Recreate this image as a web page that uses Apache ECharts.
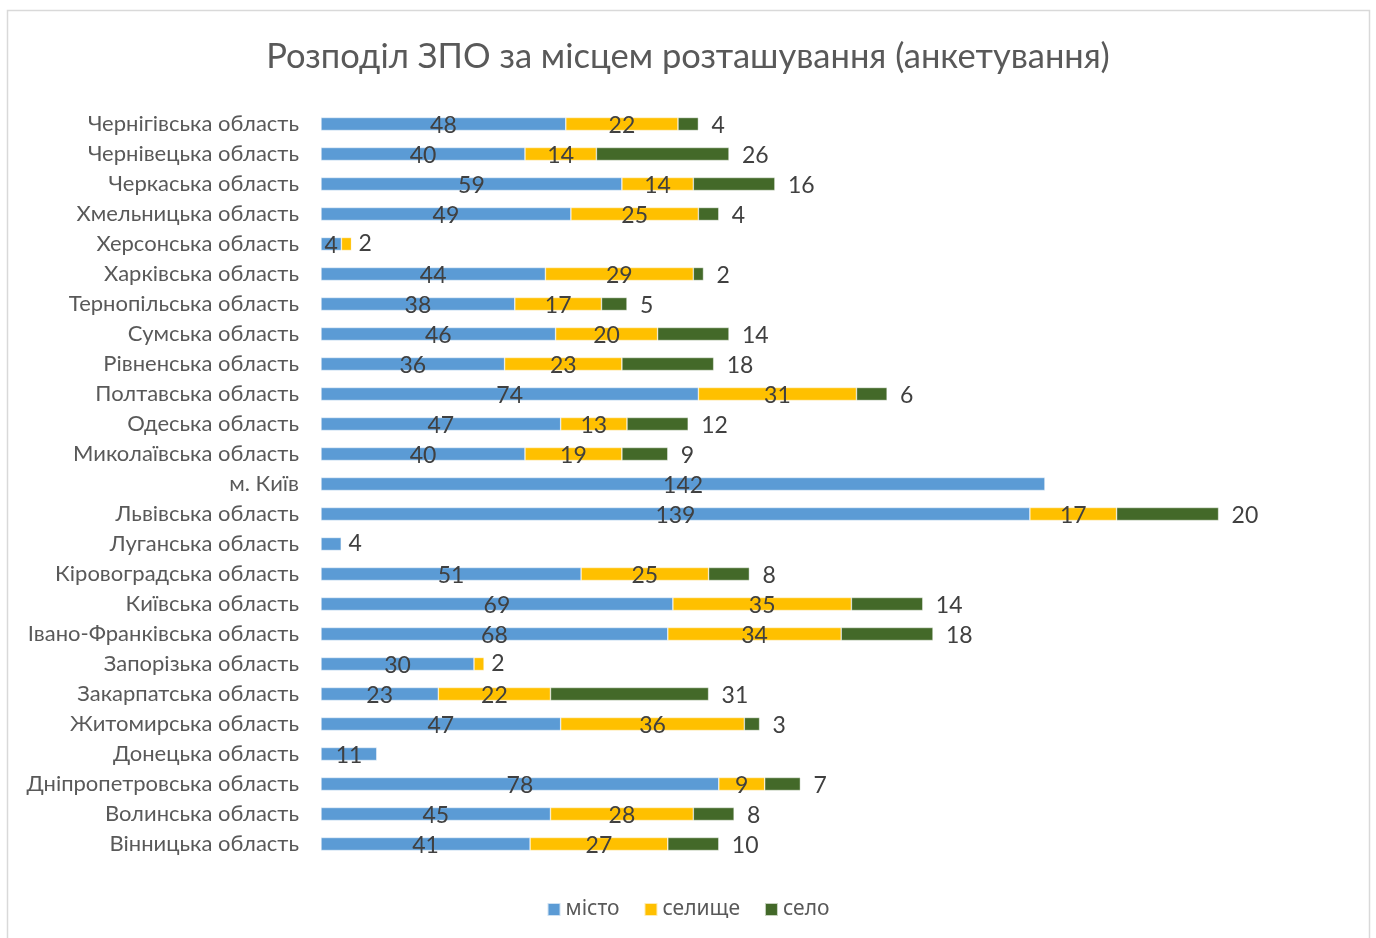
<!DOCTYPE html>
<html>
<head>
<meta charset="utf-8">
<script src="https://cdn.jsdelivr.net/npm/echarts@6/dist/echarts.min.js"></script>
<style>
  html, body { margin: 0; padding: 0; background: #fff; }
  #chart { width: 1376px; height: 938px; }
</style>
</head>
<body>
<div id="chart"></div>
<script>
// regions, bottom to top as on the picture
var regions = [
  'Вінницька область', 'Волинська область', 'Дніпропетровська область', 'Донецька область',
  'Житомирська область', 'Закарпатська область', 'Запорізька область', 'Івано-Франківська область',
  'Київська область', 'Кіровоградська область', 'Луганська область', 'Львівська область',
  'м. Київ', 'Миколаївська область', 'Одеська область', 'Полтавська область',
  'Рівненська область', 'Сумська область', 'Тернопільська область', 'Харківська область',
  'Херсонська область', 'Хмельницька область', 'Черкаська область', 'Чернівецька область',
  'Чернігівська область'
];
var misto   = [41, 45, 78, 11, 47, 23, 30, 68, 69, 51, 4, 139, 142, 40, 47, 74, 36, 46, 38, 44, 4, 49, 59, 40, 48];
var selyshche = [27, 28, 9, 0, 36, 22, 2, 34, 35, 25, 0, 17, 0, 19, 13, 31, 23, 20, 17, 29, 2, 25, 14, 14, 22];
var selo    = [10, 8, 7, 0, 3, 31, 0, 18, 14, 8, 0, 20, 0, 9, 12, 6, 18, 14, 5, 2, 0, 4, 16, 26, 4];

var seriesNames = ['місто', 'селище', 'село'];
var colors = ['#5B9BD5', '#FFC000', '#436929'];
var allValues = [misto, selyshche, selo];

var chart = echarts.init(document.getElementById('chart'));

function lastNonZero(i) {
  for (var s = allValues.length - 1; s >= 0; s--) {
    if (allValues[s][i] > 0) return s;
  }
  return -1;
}

var series = allValues.map(function (vals, s) {
  return {
    name: seriesNames[s],
    type: 'bar',
    stack: 'total',
    barWidth: 13,
    itemStyle: { color: colors[s], borderColor: 'rgba(255,255,255,0.7)', borderWidth: 0.6 },
    label: {
      show: true,
      position: s === 2 ? 'right' : 'inside',
      distance: 13,
      color: '#404040',
      fontSize: 23,
      fontFamily: 'Lato, "Noto Sans", sans-serif',
      offset: [0, 2],
      formatter: function (p) { return p.value > 0 ? p.value : ''; }
    },
    data: vals.map(function (v, i) {
      var item = { value: v };
      // small last segments have their label outside the bar
      if (s < 2 && lastNonZero(i) === s && v < 8) {
        item.label = { position: 'right', distance: 7, offset: [0, 0] };
      }
      return item;
    })
  };
});

var option = {
  animation: false,
  backgroundColor: '#fff',
  title: {
    text: 'Розподіл ЗПО за місцем розташування (анкетування)',
    left: 'center',
    top: 34,
    textStyle: {
      color: '#595959',
      fontSize: 34.5,
      fontWeight: 'normal',
      fontFamily: 'Lato, "Noto Sans", sans-serif'
    }
  },
  graphic: [{
    type: 'rect',
    shape: { x: 7.5, y: 10.5, width: 1362, height: 940 },
    style: { fill: 'none', stroke: '#d9d9d9', lineWidth: 1.5 },
    silent: true
  }],
  legend: {
    bottom: 13,
    left: 'center',
    itemWidth: 13,
    itemHeight: 13,
    itemGap: 24,
    icon: 'rect',
    textStyle: { color: '#595959', fontSize: 21, fontFamily: '"Noto Sans", sans-serif' },
    data: seriesNames
  },
  grid: { left: 321, top: 109, width: 1020, height: 750 },
  xAxis: {
    type: 'value',
    min: 0,
    max: 200,
    show: false
  },
  yAxis: {
    type: 'category',
    data: regions,
    axisLine: { show: false },
    axisTick: { show: false },
    splitLine: { show: false },
    axisLabel: {
      margin: 22,
      color: '#595959',
      fontSize: 22,
      fontFamily: 'Lato, "Noto Sans", sans-serif'
    }
  },
  series: series
};

chart.setOption(option);
</script>
</body>
</html>
